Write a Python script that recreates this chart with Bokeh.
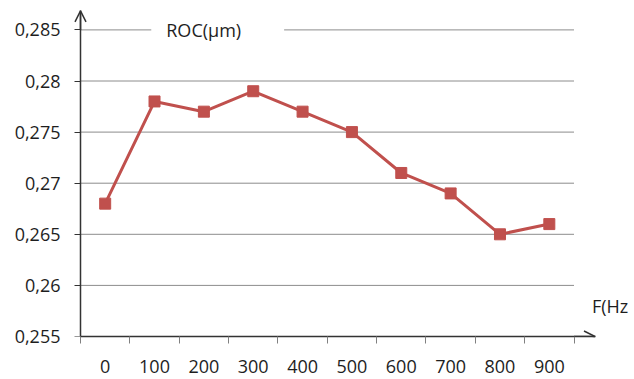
from bokeh.plotting import figure
from bokeh.models import Range1d, FixedTicker, Label, Arrow, OpenHead, LinearAxis
from bokeh.embed import file_html
from bokeh.resources import INLINE

# ---- data ----
categories = ["0", "100", "200", "300", "400", "500", "600", "700", "800", "900"]
roc_values = [0.268, 0.278, 0.277, 0.279, 0.277, 0.275, 0.271, 0.269, 0.265, 0.266]
y_ticks = [0.255, 0.26, 0.265, 0.27, 0.275, 0.28, 0.285]
y_tick_labels = ["0,255", "0,26", "0,265", "0,27", "0,275", "0,28", "0,285"]
y_title = "ROC(μm)"
x_title = "F(Hz"

FONT = "Open Sans"
TXT = "#1e1e1e"
RED = "#C0504D"
AX = "#333333"
GRID = "#8c8c8c"

n = len(categories)
idx = list(range(n))

# layout scale helpers
px_per_x = 49.35
px_per_y = 51.1 / 0.005
pad_left = 14
frame_left = 80 - pad_left
frame_w = 634 - frame_left
frame_h = 336
x_axis_pos = -0.5
x_start = x_axis_pos - pad_left / px_per_x
x_end = x_start + frame_w / px_per_x
y_start = y_ticks[0]
y_end = y_start + frame_h / px_per_y
x_arrow = (n - 0.5) + 21 / px_per_x
y_arrow = y_ticks[-1] + 19 / px_per_y

p = figure(width=634, height=379, output_backend="svg", toolbar_location=None,
           x_range=Range1d(x_start, x_end), y_range=Range1d(y_start, y_end),
           min_border_left=frame_left, min_border_right=0, min_border_top=0, min_border_bottom=43)
p.outline_line_color = None
p.background_fill_color = "white"
p.border_fill_color = "white"
p.xgrid.visible = False
p.ygrid.visible = False

# horizontal gridlines (within the category area only)
gy = y_ticks[1:]
p.segment(x0=[x_axis_pos] * len(gy), x1=[n - 0.5] * len(gy), y0=gy, y1=gy,
          line_color=GRID, line_width=1)

# data
p.line(idx, roc_values, line_color=RED, line_width=3)
p.scatter(idx, roc_values, marker="square", size=11, fill_color=RED, line_color=RED)

# y axis labels (at frame edge)
ya = p.yaxis[0]
ya.ticker = FixedTicker(ticks=y_ticks, minor_ticks=[])
ya.major_label_overrides = {t: l for t, l in zip(y_ticks, y_tick_labels)}
ya.axis_line_color = None
ya.major_tick_line_color = None
ya.minor_tick_line_color = None
ya.major_tick_out = 0
ya.major_tick_in = 0
ya.major_label_standoff = 6
ya.major_label_text_font = FONT
ya.major_label_text_font_size = "18px"
ya.major_label_text_color = TXT

# y axis line + ticks (at x = -0.5, inside the frame)
ya2 = LinearAxis(fixed_location=x_axis_pos,
                 ticker=FixedTicker(ticks=y_ticks, minor_ticks=[]),
                 bounds=(y_start, y_arrow),
                 axis_line_color=AX, axis_line_width=1.5,
                 major_tick_line_color=AX, major_tick_out=6, major_tick_in=0,
                 minor_tick_line_color=None,
                 major_label_text_font_size="0px", major_label_text_color=None,
                 major_label_standoff=0)
p.add_layout(ya2, "left")

# x axis
xa = p.xaxis[0]
xa.ticker = FixedTicker(ticks=idx, minor_ticks=[i - 0.5 for i in range(n + 1)])
xa.major_label_overrides = {i: c for i, c in zip(idx, categories)}
xa.bounds = (x_axis_pos, x_arrow)
xa.axis_line_color = AX
xa.axis_line_width = 1.5
xa.major_tick_out = 0
xa.major_tick_in = 0
xa.minor_tick_out = 7
xa.minor_tick_in = 0
xa.minor_tick_line_color = "#808080"
xa.minor_tick_line_width = 1
xa.major_label_standoff = 16
xa.major_label_text_font = FONT
xa.major_label_text_font_size = "18px"
xa.major_label_text_color = TXT

# arrow heads
p.add_layout(Arrow(end=OpenHead(size=11, line_color=AX, line_width=1.5),
                   x_start=x_axis_pos, y_start=y_ticks[-1], x_end=x_axis_pos, y_end=y_arrow,
                   line_color=AX, line_width=1.5))
p.add_layout(Arrow(end=OpenHead(size=11, line_color=AX, line_width=1.5),
                   x_start=n - 0.5, y_start=y_start, x_end=x_arrow, y_end=y_start,
                   line_color=AX, line_width=1.5))

# titles
p.add_layout(Label(x=2.28, y=y_ticks[-1], text=y_title, text_align="center", text_baseline="middle",
                   text_font=FONT, text_font_size="18px", text_color=TXT,
                   background_fill_color="white",
                   padding=dict(left=15, right=43, top=3, bottom=3)))
p.add_layout(Label(x=(n - 0.5) + 18 / px_per_x, y=y_start + 31 / px_per_y, text=x_title,
                   text_align="left", text_baseline="middle",
                   text_font=FONT, text_font_size="18px", text_color=TXT))

open("out.html", "w").write(file_html(p, INLINE))
